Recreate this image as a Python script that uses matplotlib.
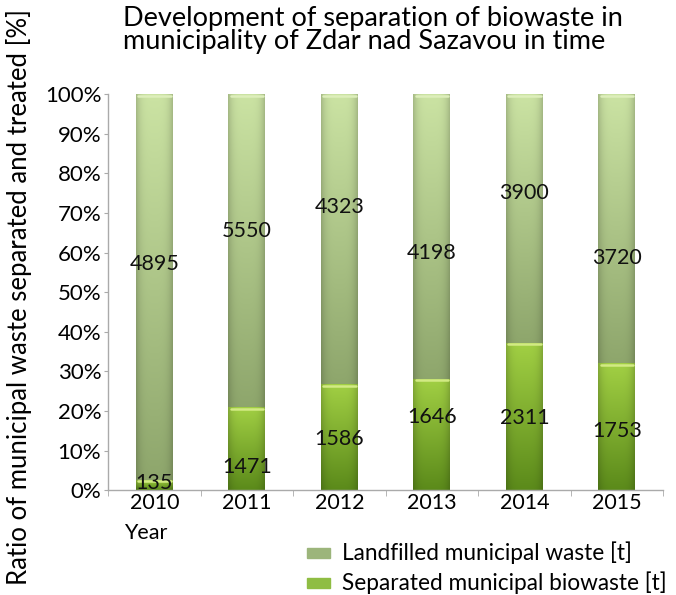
import numpy as np
import matplotlib
matplotlib.use("Agg")
import matplotlib.pyplot as plt
from matplotlib.colors import to_rgb

years = ["2010", "2011", "2012", "2013", "2014", "2015"]
separated = [135, 1471, 1586, 1646, 2311, 1753]
landfilled = [4895, 5550, 4323, 4198, 3900, 3720]
yticks = [0, 10, 20, 30, 40, 50, 60, 70, 80, 90, 100]

# label vertical positions (percent) as placed in the original
land_label_y = [57, 65.5, 71.5, 60, 75, 58.5]
sep_label_y = [1.8, 6, 13, 18.5, 18.3, 15]

plt.rcParams['font.family'] = ['Lato', 'DejaVu Sans']

fig = plt.figure(figsize=(6.76, 5.95), dpi=100)
ax = fig.add_axes([0.160, 0.176, 0.821, 0.666])

sep = np.array(separated, float)
land = np.array(landfilled, float)
tot = sep + land
sep_pct = sep / tot * 100
land_pct = land / tot * 100
x = np.arange(len(years))
w = 0.40

sep_bars = ax.bar(x, sep_pct, w, color='none', edgecolor='none')
land_bars = ax.bar(x, land_pct, w, bottom=sep_pct, color='none', edgecolor='none')


def shade(patch, top, bottom, highlight=None):
    bx, by = patch.get_x(), patch.get_y()
    bw, bh = patch.get_width(), patch.get_height()
    n, m = 200, 60
    t = np.linspace(1, 0, n)[:, None]  # 1 at top row
    c_top = np.array(to_rgb(top))
    c_bot = np.array(to_rgb(bottom))
    img = c_bot[None, None, :] + (c_top - c_bot)[None, None, :] * t[:, :, None]
    u = np.linspace(-1, 1, m)[None, :]
    f = 1 - 0.18 * np.abs(u) ** 4
    img = img * f[:, :, None]
    img = np.clip(img, 0, 1)
    im = ax.imshow(img, extent=[bx, bx + bw, by, by + bh], aspect='auto',
                   origin='upper', zorder=2, interpolation='bilinear')
    im.set_clip_path(patch)
    if highlight is not None:
        ax.plot([bx + bw * 0.06, bx + bw * 0.94], [by + bh - 0.4, by + bh - 0.4],
                color=highlight, lw=1.8, solid_capstyle='round', zorder=3)


for p in sep_bars:
    shade(p, '#a2d044', '#5b8a1a', highlight='#d2ea84')
for p in land_bars:
    shade(p, '#cbe3a3', '#8ea66c', highlight='#ddeebb')

for i in range(len(years)):
    ax.text(x[i], land_label_y[i], str(landfilled[i]), ha='center', va='center',
            fontsize=15.5, color='#111111', zorder=5)
    ax.text(x[i], sep_label_y[i], str(separated[i]), ha='center', va='center',
            fontsize=15.5, color='#111111', zorder=5)

ax.set_xlim(-0.5, len(years) - 0.5)
ax.set_ylim(0, 100)
ax.set_yticks(yticks)
ax.set_yticklabels([f"{v}%" for v in yticks], fontsize=16)
ax.set_xticks(x)
ax.set_xticklabels(years, fontsize=15.5)
ax.set_xticks(np.arange(-0.5, len(years), 1), minor=True)
ax.tick_params(axis='x', which='major', length=0, pad=2)
ax.tick_params(axis='x', which='minor', length=4, color='#aaaaaa')
ax.tick_params(axis='y', length=3, color='#aaaaaa', pad=2)
for s in ['top', 'right']:
    ax.spines[s].set_visible(False)
for s in ['left', 'bottom']:
    ax.spines[s].set_color('#aaaaaa')
    ax.spines[s].set_linewidth(1)

fig.text(123 / 676, 1 - 6 / 595,
         "Development of separation of biowaste in\nmunicipality of Zdar nad Sazavou in time",
         ha='left', va='top', fontsize=19.5, linespacing=0.92)
fig.text(19 / 676, 1 - 297 / 595, "Ratio of municipal waste separated and treated [%]",
         rotation=90, ha='center', va='center', fontsize=18.5)
fig.text(124 / 676, 1 - 533 / 595, "Year", ha='left', va='center', fontsize=15.5)

# legend
for yy, col, lab in [(553, '#9cb57b', "Landfilled municipal waste [t]"),
                     (583, '#8fbd43', "Separated municipal biowaste [t]")]:
    fig.patches.append(plt.Rectangle((307 / 676, 1 - (yy + 5) / 595), 23 / 676, 10 / 595,
                                     transform=fig.transFigure, color=col))
    fig.text(342 / 676, 1 - yy / 595, lab, ha='left', va='center', fontsize=16.3)

fig.savefig("out.png", dpi=100)
